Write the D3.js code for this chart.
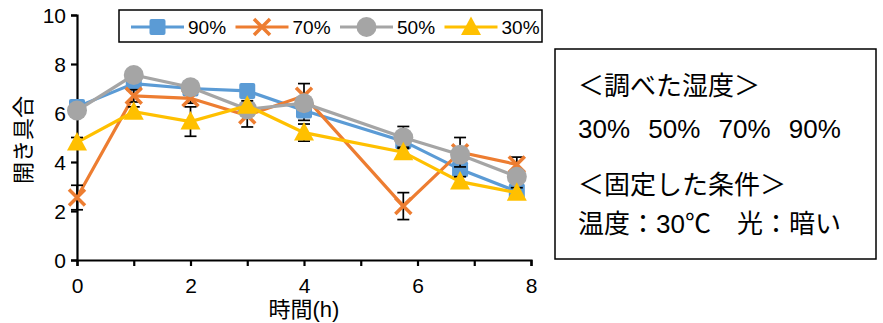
<!DOCTYPE html>
<html>
<head>
<meta charset="utf-8">
<script src="https://cdn.jsdelivr.net/npm/d3@7"></script>
<style>
  body { margin: 0; background: #fff; }
  text { font-family: "Liberation Sans", "Noto Sans CJK JP", sans-serif; fill: #000; }
</style>
</head>
<body>
<script>
// data
var hours = [0, 1, 2, 3, 4, 5.75, 6.75, 7.75];
var seriesNames = ["90%", "70%", "50%", "30%"];
var rh90 = [6.25, 7.2, 7.0, 6.9, 6.1, 4.85, 3.7, 2.8];
var rh70 = [2.55, 6.7, 6.6, 5.9, 6.7, 2.2, 4.4, 3.9];
var rh50 = [6.1, 7.55, 7.05, 6.15, 6.4, 5.0, 4.3, 3.4];
var rh30 = [4.8, 6.05, 5.65, 6.3, 5.2, 4.4, 3.2, 2.75];
var err90 = [0.2, 0.2, 0.2, 0.2, 0.4, 0.2, 0.2, 0.2];
var err70 = [0.5, 0.25, 0.2, 0.47, 0.5, 0.55, 0.6, 0.3];
var err50 = [0.2, 0.2, 0.2, 0.2, 0.2, 0.45, 0.2, 0.2];
var err30 = [0.2, 0.2, 0.6, 0.2, 0.35, 0.2, 0.2, 0.2];
var xTicks = [0, 1, 2, 3, 4, 5, 6, 7, 8];
var yTicks = [0, 2, 4, 6, 8, 10];
var boxLines = ["＜調べた湿度＞", "30% 50% 70% 90%", "＜固定した条件＞", "温度：30℃　光：暗い"];

//setting the width and height
var width = 883,
    height = 323;

var svg = d3.select("body").append("svg")
    .attr("width", width)
    .attr("height", height);

var x = d3.scaleLinear().domain([0, 8]).range([77, 531]);
var y = d3.scaleLinear().domain([0, 10]).range([260, 15]);

var colors = ["#5B9BD5", "#ED7D31", "#A5A5A5", "#FFC000"];
var shapes = ["square", "x", "circle", "triangle"];
var values = [rh90, rh70, rh50, rh30];
var errors = [err90, err70, err50, err30];

var series = seriesNames.map(function(name, i) {
  return {
    name: name, color: colors[i], shape: shapes[i],
    points: hours.map(function(h, j) { return { h: h, v: values[i][j], e: errors[i][j] }; })
  };
});

//draws one marker into a group
function marker(g, shape, color) {
  if (shape === "square") {
    g.append("rect").attr("x", -8).attr("y", -8).attr("width", 16).attr("height", 16)
      .attr("rx", 2).style("fill", color);
  } else if (shape === "circle") {
    g.append("circle").attr("r", 10).style("fill", color);
  } else if (shape === "triangle") {
    g.append("path").attr("d", "M0,-10.5L10,8L-10,8Z").style("fill", color);
  } else {
    g.append("path").attr("d", "M-8,-8L8,8M-8,8L8,-8")
      .style("stroke", color).style("stroke-width", 3.5).style("fill", "none");
  }
}

//axes
var xAxis = d3.axisBottom(x).tickValues(xTicks).tickSize(6)
  .tickFormat(function(d) { return d % 2 === 0 ? d : ""; });
var gx = svg.append("g").attr("transform", "translate(0," + y(0) + ")").call(xAxis);
var yAxis = d3.axisLeft(y).tickValues(yTicks).tickSize(6);
var gy = svg.append("g").attr("transform", "translate(" + x(0) + ",0)").call(yAxis);

[gx, gy].forEach(function(g) {
  g.select(".domain").style("stroke", "#000").style("stroke-width", 2.2);
  g.selectAll(".tick line").style("stroke", "#000").style("stroke-width", 2.2);
  g.selectAll(".tick text").style("font-size", "21px").style("fill", "#000")
    .style("font-family", "'Liberation Sans', sans-serif");
});
gx.selectAll(".tick text").attr("y", 18).attr("dy", "0.71em");
gy.selectAll(".tick text").attr("x", -11).attr("dy", "0.36em");

//axis titles
svg.append("text").attr("x", x(4)).attr("y", 309).attr("dy", "0.36em").attr("text-anchor", "middle")
  .style("font-size", "22px").text("時間(h)");
svg.append("text").attr("transform", "translate(23,140) rotate(-90)")
  .attr("dy", "0.36em").attr("text-anchor", "middle").style("font-size", "22px").text("開き具合");

//series
var line = d3.line().x(function(d) { return x(d.h); }).y(function(d) { return y(d.v); });

series.forEach(function(s) {
  var g = svg.append("g");
  g.append("path").datum(s.points).attr("d", line)
    .style("fill", "none").style("stroke", s.color).style("stroke-width", 3.2);

  var eb = g.selectAll(".err").data(s.points).enter().append("g");
  eb.append("line")
    .attr("x1", function(d) { return x(d.h); }).attr("x2", function(d) { return x(d.h); })
    .attr("y1", function(d) { return y(d.v - d.e); }).attr("y2", function(d) { return y(d.v + d.e); });
  eb.append("line")
    .attr("x1", function(d) { return x(d.h) - 6; }).attr("x2", function(d) { return x(d.h) + 6; })
    .attr("y1", function(d) { return y(d.v - d.e); }).attr("y2", function(d) { return y(d.v - d.e); });
  eb.append("line")
    .attr("x1", function(d) { return x(d.h) - 6; }).attr("x2", function(d) { return x(d.h) + 6; })
    .attr("y1", function(d) { return y(d.v + d.e); }).attr("y2", function(d) { return y(d.v + d.e); });
  eb.selectAll("line").style("stroke", "#000").style("stroke-width", 1.7);

  g.selectAll(".pt").data(s.points).enter().append("g")
    .attr("transform", function(d) { return "translate(" + x(d.h) + "," + y(d.v) + ")"; })
    .each(function() { marker(d3.select(this), s.shape, s.color); });
});

//legend
var legend = svg.append("g");
legend.append("rect").attr("x", 119).attr("y", 10).attr("width", 423).attr("height", 32)
  .style("fill", "#fff").style("stroke", "#000").style("stroke-width", 1.5);
var item = legend.selectAll(".item").data(series).enter().append("g")
  .attr("transform", function(d, i) { return "translate(" + (131 + i * 104.5) + ",27)"; });
item.append("line").attr("x1", 0).attr("x2", 53)
  .style("stroke", function(d) { return d.color; }).style("stroke-width", 3.2);
item.append("g").attr("transform", "translate(26.5,0)")
  .each(function(d) { marker(d3.select(this), d.shape, d.color); });
item.append("text").attr("x", 57).attr("dy", "0.36em").style("font-size", "19px")
  .text(function(d) { return d.name; });

//side box
var box = svg.append("g");
box.append("rect").attr("x", 555).attr("y", 49).attr("width", 321).attr("height", 210)
  .style("fill", "#fff").style("stroke", "#000").style("stroke-width", 1.5);
box.selectAll("text").data(boxLines).enter().append("text")
  .attr("x", 578)
  .attr("y", function(d, i) { return [86, 129, 185, 224][i]; })
  .attr("dy", "0.36em").style("font-size", "26px")
  .style("word-spacing", "11px")
  .text(function(d) { return d; });
</script>
</body>
</html>
